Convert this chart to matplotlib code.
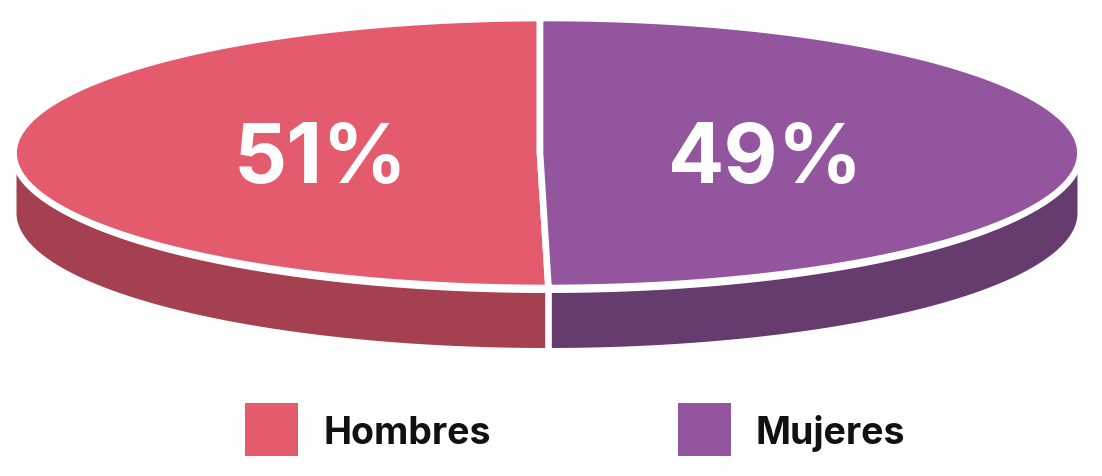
import numpy as np
import matplotlib
matplotlib.use("Agg")
import matplotlib.pyplot as plt
from matplotlib.patches import Polygon, Rectangle

# ---- data ----
categories = ["Hombres", "Mujeres"]
values = [51, 49]
pct_labels = ["51%", "49%"]
top_colors = ["#E55B6E", "#92559E"]
side_colors = ["#A4404F", "#663C6E"]

W, H = 1102, 476
fig = plt.figure(figsize=(W / 100, H / 100), dpi=100)
ax = fig.add_axes([0, 0, 1, 1])
ax.set_xlim(0, W)
ax.set_ylim(H, 0)
ax.axis("off")

# geometry (layout)
cx, cy = 547.0, 153.0      # ellipse centre
a, b = 533.5, 135.0        # semi axes (incl. stroke)
vx, vy = 540.0, 153.0      # pie vertex
gap, depth = 5.0, 60.0
a_side = 530.5
sep_lw = 4.8

def ray_hit(phi):
    dx, dy = np.cos(phi), -np.sin(phi)
    ux, uy = vx - cx, vy - cy
    A = dx * dx / a**2 + dy * dy / b**2
    B = 2 * (ux * dx / a**2 + uy * dy / b**2)
    C = ux * ux / a**2 + uy * uy / b**2 - 1
    t = (-B + np.sqrt(B * B - 4 * A * C)) / (2 * A)
    return vx + t * dx, vy + t * dy, t

total = float(sum(values))
angles = [np.pi / 2]
for v in values:
    angles.append(angles[-1] + 2 * np.pi * v / total)

# split point on the lower half
split_x = None
for ang in angles[1:-1]:
    px, py, _ = ray_hit(ang)
    split_x = px

# ---- sides ----
ths = np.arccos(np.clip((split_x - cx) / a_side, -1, 1))
side_ranges = [(np.pi, ths), (ths, 0.0)]
for (t0, t1), col in zip(side_ranges, side_colors):
    th = np.linspace(t0, t1, 200)
    xs = cx + a_side * np.cos(th)
    ytop = cy + gap + b * np.sin(th)
    ybot = cy + depth + b * np.sin(th)
    pts = np.column_stack([np.concatenate([xs, xs[::-1]]),
                           np.concatenate([ytop, ybot[::-1]])])
    ax.add_patch(Polygon(pts, closed=True, facecolor=col, edgecolor="none", zorder=1))
sy_top = cy + gap + b * np.sin(ths)
ax.plot([split_x, split_x], [sy_top - 2, sy_top + depth], color="white",
        lw=sep_lw, solid_capstyle="butt", zorder=2)

# ---- top wedges ----
for i, col in enumerate(top_colors):
    phis = np.linspace(angles[i], angles[i + 1], 300)
    pts = [(vx, vy)] + [ray_hit(p)[:2] for p in phis]
    ax.add_patch(Polygon(pts, closed=True, facecolor=col, edgecolor="white",
                         lw=sep_lw, joinstyle="miter", zorder=3))
    mid = (angles[i] + angles[i + 1]) / 2
    px, py, t = ray_hit(mid)
    lx = vx + 0.42 * t * np.cos(mid)
    ax.text(lx, vy, pct_labels[i], color="white", fontsize=60, fontweight="bold",
            family=["Inter", "DejaVu Sans"], ha="center", va="center_baseline", zorder=5)

# ---- legend ----
leg_x = [245, 678]
for i, (lab, col) in enumerate(zip(categories, top_colors)):
    ax.add_patch(Rectangle((leg_x[i], 403), 53, 53, facecolor=col, edgecolor="none"))
    ax.text(leg_x[i] + 78, 430, lab, color="#111111", fontsize=27, fontweight="bold",
            family=["Inter", "DejaVu Sans"], ha="left", va="center_baseline")

fig.savefig("out.png", dpi=100)
